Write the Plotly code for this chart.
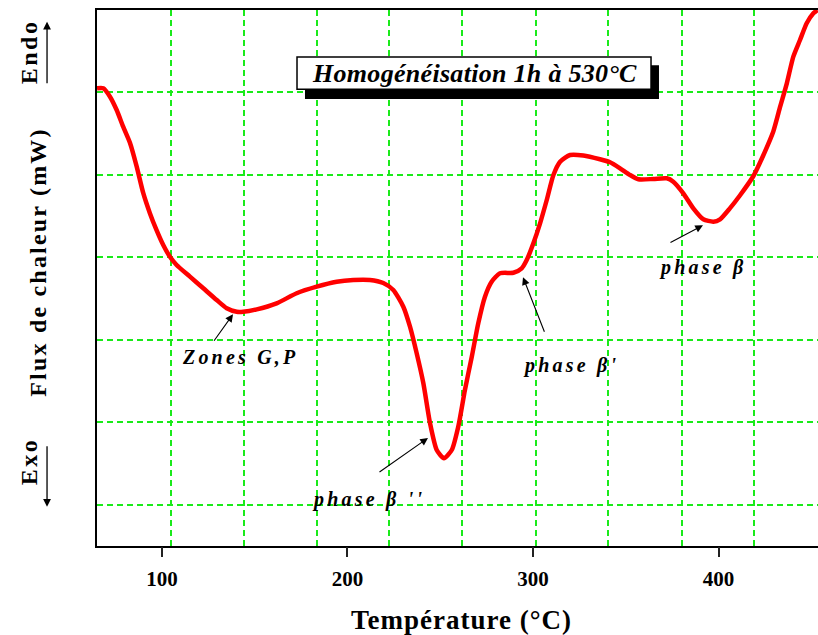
import plotly.graph_objects as go

# DSC heating curve, sample homogenised 1 h at 530 °C
temperature = [65.0, 68.4, 72.0, 75.6, 79.1, 82.8, 86.4, 89.9, 93.5, 97.1,
               100.7, 104.3, 107.9, 115.1, 122.3, 129.5, 134.9, 140.3, 143.8, 151.1,
               161.8, 172.6, 183.4, 194.2, 203.1, 212.1, 219.3, 224.7, 230.1, 233.7,
               237.3, 240.9, 244.5, 248.1, 252.0, 256.2, 259.7, 263.3, 267.0, 270.5,
               274.1, 277.7, 282.2, 289.4, 293.9, 296.6, 300.2, 303.8, 307.4, 311.0,
               314.6, 320.0, 327.1, 336.1, 341.5, 346.9, 352.3, 356.8, 364.9, 372.1,
               375.6, 381.0, 386.4, 391.8, 397.2, 400.8, 406.1, 411.5, 418.8, 424.2,
               429.5, 433.2, 436.8, 440.3, 443.9, 447.5, 451.1, 453.3]
heat_flow = [5.551, 5.551, 5.449, 5.287, 5.085, 4.887, 4.600, 4.281, 4.036, 3.830,
             3.650, 3.508, 3.408, 3.266, 3.125, 2.983, 2.883, 2.841, 2.841, 2.870,
             2.943, 3.065, 3.145, 3.205, 3.226, 3.226, 3.189, 3.105, 2.902, 2.659,
             2.337, 1.973, 1.488, 1.164, 1.064, 1.164, 1.447, 1.892, 2.296, 2.701,
             3.023, 3.205, 3.307, 3.314, 3.368, 3.468, 3.671, 3.913, 4.196, 4.499,
             4.660, 4.742, 4.736, 4.690, 4.653, 4.580, 4.499, 4.447, 4.451, 4.459,
             4.418, 4.277, 4.095, 3.962, 3.933, 3.962, 4.095, 4.251, 4.487, 4.742,
             5.027, 5.327, 5.611, 5.934, 6.136, 6.339, 6.460, 6.500]

x_ticks = [100, 200, 300, 400]
x_grid = [104.9, 144.2, 183.8, 222.4, 261.7, 301.6, 340.4, 380.3, 419.1]
y_grid = [0.5, 1.5, 2.5, 3.5, 4.5, 5.5]
x_range = [65.0, 453.6]
y_range = [0.0, 6.5]

title_text = "Homogénéisation 1h à 530°C"
peak_labels = ["Zones G,P", "phase β ''", "phase β'", "phase β"]
label_pos = [(142.0, 2.29), (211.5, 0.56), (320.5, 2.19), (391.6, 3.38)]
arrow_head = [(138.3, 2.81), (243.4, 1.31), (294.6, 3.26), (391.6, 3.89)]
arrow_tail = [(-20, 28), (-50, 35), (22, 56), (-34, 18)]

SERIF = "Liberation Serif, Times New Roman, serif"
GRID_GREEN = "#1aea1a"


def spaced(text, px, bold=True, italic=False):
    """Wrap text in a letter-spaced span, optionally bold / italic."""
    t = f'<span style="letter-spacing:{px}px">{text}</span>'
    if italic:
        t = f"<i>{t}</i>"
    if bold:
        t = f"<b>{t}</b>"
    return t


fig = go.Figure()
fig.add_trace(go.Scatter(
    x=temperature, y=heat_flow, mode="lines",
    line=dict(color="#ff0000", width=4.5, shape="spline", smoothing=0.6),
    hoverinfo="skip", showlegend=False,
))
# companion axis carrying the labelled temperature ticks
fig.add_trace(go.Scatter(x=[], y=[], xaxis="x2", showlegend=False))

# title box with drop shadow
fig.add_shape(type="rect", xref="x", yref="y", x0=177.1, x1=367.9, y0=5.42, y1=5.83,
              fillcolor="black", line=dict(width=0), layer="above")
fig.add_shape(type="rect", xref="x", yref="y", x0=172.8, x1=363.6, y0=5.54, y1=5.93,
              fillcolor="white", line=dict(color="black", width=1.5), layer="above")
fig.add_annotation(x=268.2, y=5.736, xref="x", yref="y", text=spaced(title_text, 0.3, italic=True),
                   showarrow=False, font=dict(family=SERIF, size=26, color="black"))

for text, (lx, ly), (hx, hy), (ax, ay) in zip(peak_labels, label_pos, arrow_head, arrow_tail):
    fig.add_annotation(x=lx, y=ly, xref="x", yref="y", text=spaced(text, 3.2, italic=True),
                       showarrow=False, font=dict(family=SERIF, size=20, color="black"))
    fig.add_annotation(x=hx, y=hy, xref="x", yref="y", text="", showarrow=True,
                       ax=ax, ay=ay, arrowhead=2, arrowsize=1.4, arrowwidth=1.1,
                       arrowcolor="black")

# vertical axis title with Endo / Exo markers
fig.add_annotation(x=-0.082, y=0.53, xref="paper", yref="paper",
                   xanchor="center", yanchor="middle",
                   text=spaced("Flux de chaleur (mW)", 2.2), textangle=-90, showarrow=False,
                   font=dict(family=SERIF, size=24, color="black"))
fig.add_annotation(x=-0.095, y=0.922, xref="paper", yref="paper",
                   xanchor="center", yanchor="middle", text=spaced("Endo", 2.5),
                   textangle=-90, showarrow=False, font=dict(family=SERIF, size=24, color="black"))
fig.add_annotation(x=-0.095, y=0.157, xref="paper", yref="paper",
                   xanchor="center", yanchor="middle", text=spaced("Exo", 2.5),
                   textangle=-90, showarrow=False, font=dict(family=SERIF, size=24, color="black"))
fig.add_annotation(x=-0.0693, y=0.978, xref="paper", yref="paper", text="", showarrow=True,
                   ax=0, ay=63, arrowhead=2, arrowsize=1.2, arrowwidth=1.3, arrowcolor="black")
fig.add_annotation(x=-0.0693, y=0.073, xref="paper", yref="paper", text="", showarrow=True,
                   ax=0, ay=-62, arrowhead=2, arrowsize=1.2, arrowwidth=1.3, arrowcolor="black")

# horizontal axis title
fig.add_annotation(x=0.506, y=-0.138, xref="paper", yref="paper",
                   xanchor="center", yanchor="middle",
                   text=spaced("Température (°C)", 1.0), showarrow=False,
                   font=dict(family=SERIF, size=27, color="black"))

fig.update_layout(
    width=818, height=635,
    margin=dict(l=97, r=0, t=10, b=89),
    paper_bgcolor="white", plot_bgcolor="white",
    xaxis=dict(range=x_range, tickvals=x_grid, showticklabels=False, ticks="",
               showgrid=True, gridcolor=GRID_GREEN, gridwidth=1.5, griddash="6px,4px",
               showline=True, linecolor="black", linewidth=2, mirror=True, zeroline=False),
    xaxis2=dict(range=x_range, overlaying="x", anchor="y", side="bottom",
                tickvals=x_ticks, ticktext=[f"<b>{v}</b>" for v in x_ticks],
                ticks="outside", ticklen=10, tickwidth=2, tickcolor="#222",
                ticklabelstandoff=4,
                tickfont=dict(family=SERIF, size=21, color="black"),
                showgrid=False, showline=False, zeroline=False),
    yaxis=dict(range=y_range, tickvals=y_grid, showticklabels=False, ticks="",
               showgrid=True, gridcolor=GRID_GREEN, gridwidth=1.5, griddash="6px,4px",
               showline=True, linecolor="black", linewidth=2, mirror=False, zeroline=False),
)

fig.write_html("out.html")
